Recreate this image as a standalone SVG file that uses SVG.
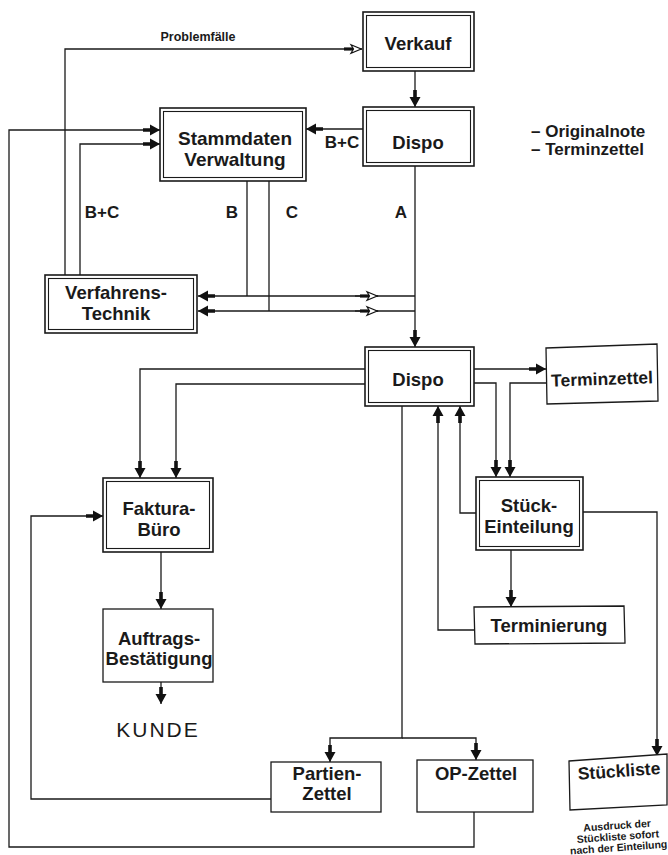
<svg xmlns="http://www.w3.org/2000/svg" width="668" height="855" viewBox="0 0 668 855">
<style>
.o{fill:#fff;stroke:#1a1a1a;stroke-width:1.6}
.i{fill:none;stroke:#1a1a1a;stroke-width:1.1}
.s{fill:#fff;stroke:#1a1a1a;stroke-width:1.3}
.t{font-family:"Liberation Sans",Arial,sans-serif;font-weight:bold;font-size:18.5px;fill:#1a1a1a;text-anchor:middle}
.l{font-family:"Liberation Sans",Arial,sans-serif;font-weight:bold;font-size:17px;fill:#1a1a1a;text-anchor:middle}
.c{fill:none;stroke:#1a1a1a;stroke-width:1.3}
.a{marker-end:url(#ah)}
.h{marker-end:url(#hh)}
</style>
<defs>
<marker id="ah" viewBox="-18 -6 19 12" refX="0" refY="0" markerWidth="19" markerHeight="12" orient="auto" markerUnits="userSpaceOnUse">
<path d="M-17,-1.8 H-10 V-5.5 L0,0 L-10,5.5 V1.8 H-17 Z" fill="#111"/>
</marker>
<marker id="hh" viewBox="-18 -6 19 12" refX="0" refY="0" markerWidth="19" markerHeight="12" orient="auto" markerUnits="userSpaceOnUse">
<path d="M-18,-1.6 H-9 V1.6 H-18 Z" fill="#111"/>
<path d="M-11,-4.3 L-0.8,0 L-11,4.3 L-8.5,0 Z" fill="#fff" stroke="#111" stroke-width="1.2"/>
</marker>
</defs>
<rect width="668" height="855" fill="#fff"/>

<g id="connectors">
<path class="c h" d="M65,275 V49 H362"/>
<path class="c a" d="M415,71 V107"/>
<path class="c a" d="M363,129 H306"/>
<path class="c a" d="M415,166 V347"/>
<path class="c a" d="M474,812 V847 H9 V130 H160"/>
<path class="c a" d="M80,275 V144 H160"/>
<path class="c" d="M247,181 V296"/>
<path class="c" d="M269,181 V311"/>
<path class="c a" d="M415,296 H198"/>
<path class="c a" d="M415,311 H198"/>
<path class="c h" d="M355,296 H378"/>
<path class="c h" d="M355,311 H378"/>
<path class="c a" d="M365,369 H140 V478"/>
<path class="c a" d="M365,384 H176 V478"/>
<path class="c a" d="M474,369 H546"/>
<path class="c a" d="M474,383 H496 V477"/>
<path class="c a" d="M546,383 H510 V477"/>
<path class="c a" d="M476,513 H460 V406"/>
<path class="c a" d="M474,630 H438 V406"/>
<path class="c a" d="M511,550 V607"/>
<path class="c a" d="M583,512 H657 V756"/>
<path class="c a" d="M402,406 V738 H330 V762"/>
<path class="c a" d="M402,738 H476 V760"/>
<path class="c a" d="M161,552 V609"/>
<path class="c a" d="M161,682 V704"/>
<path class="c a" d="M271,799 H31 V516 H103"/>
</g>

<g id="labels">
<text class="l" x="198" y="41" style="font-size:12.5px">Problemfälle</text>
<text class="l" x="102" y="218">B+C</text>
<text class="l" x="232" y="218">B</text>
<text class="l" x="292" y="218">C</text>
<text class="l" x="401" y="218">A</text>
<text class="l" x="342" y="148">B+C</text>
<text class="l" x="531" y="137" style="text-anchor:start;font-size:17px">– Originalnote</text>
<text class="l" x="531" y="155" style="text-anchor:start;font-size:17px">– Terminzettel</text>
</g>

<g id="verkauf">
<rect class="o" x="363" y="12" width="111" height="59"/>
<rect class="i" x="366.5" y="15.5" width="104" height="52"/>
<text class="t" x="418" y="50">Verkauf</text>
</g>
<g id="dispo-top">
<rect class="o" x="363" y="107" width="111" height="59"/>
<rect class="i" x="366.5" y="110.5" width="104" height="52"/>
<text class="t" x="418" y="149">Dispo</text>
</g>
<g id="stammdaten">
<rect class="o" x="160" y="108" width="146" height="73"/>
<rect class="i" x="163.5" y="111.5" width="139" height="66"/>
<text class="t" x="235" y="145" style="font-size:19px">Stammdaten</text>
<text class="t" x="235" y="166" style="font-size:19px">Verwaltung</text>
</g>
<g id="verfahrenstechnik">
<rect class="o" x="45" y="275" width="152" height="58"/>
<rect class="i" x="48.5" y="278.5" width="145" height="51"/>
<text class="t" x="116" y="299">Verfahrens-</text>
<text class="t" x="116" y="320">Technik</text>
</g>
<g id="dispo-mid">
<rect class="o" x="365" y="347" width="109" height="59"/>
<rect class="i" x="368.5" y="350.5" width="102" height="52"/>
<text class="t" x="418" y="386">Dispo</text>
</g>
<g id="terminzettel">
<path class="s" d="M546,348 L657,344 L658,401 L547,404 Z"/>
<text class="t" x="602" y="385" style="font-size:17.5px" transform="rotate(-2 602 379)">Terminzettel</text>
</g>
<g id="faktura">
<rect class="o" x="103" y="478" width="110" height="74"/>
<rect class="i" x="106.5" y="481.5" width="103" height="67"/>
<text class="t" x="159" y="515">Faktura-</text>
<text class="t" x="159" y="536">Büro</text>
</g>
<g id="stueck-einteilung">
<rect class="o" x="476" y="477" width="107" height="73"/>
<rect class="i" x="479.5" y="480.5" width="100" height="66"/>
<text class="t" x="529" y="512">Stück-</text>
<text class="t" x="529" y="533">Einteilung</text>
</g>
<g id="auftrag">
<rect class="s" x="103" y="609" width="110" height="73"/>
<text class="t" x="159" y="645">Auftrags-</text>
<text class="t" x="159" y="665">Bestätigung</text>
</g>
<g id="kunde">
<text x="158" y="737" style="font-family:'Liberation Sans',Arial,sans-serif;font-size:21px;letter-spacing:2px;fill:#1a1a1a;text-anchor:middle">KUNDE</text>
</g>
<g id="terminierung">
<path class="s" d="M474,607 L624,606 L625,643 L475,644 Z"/>
<text class="t" x="549" y="632">Terminierung</text>
</g>
<g id="partien">
<rect class="s" x="271" y="762" width="110" height="50"/>
<text class="t" x="327" y="780">Partien-</text>
<text class="t" x="327" y="800">Zettel</text>
</g>
<g id="op-zettel">
<rect class="s" x="417" y="760" width="116" height="52"/>
<text class="t" x="476" y="780">OP-Zettel</text>
</g>
<g id="stueckliste">
<path class="s" d="M569,761 L667,754 L667,805 L570,810 Z"/>
<text class="t" x="619" y="777" style="font-size:17.5px" transform="rotate(-4 619 771)">Stückliste</text>
<g transform="rotate(-4 619 838)">
<text class="l" x="618" y="829" style="font-size:10.5px">Ausdruck der</text>
<text class="l" x="618" y="840" style="font-size:10.5px">Stückliste sofort</text>
<text class="l" x="618" y="851" style="font-size:10.5px">nach der Einteilung</text>
</g>
</g>
</svg>
